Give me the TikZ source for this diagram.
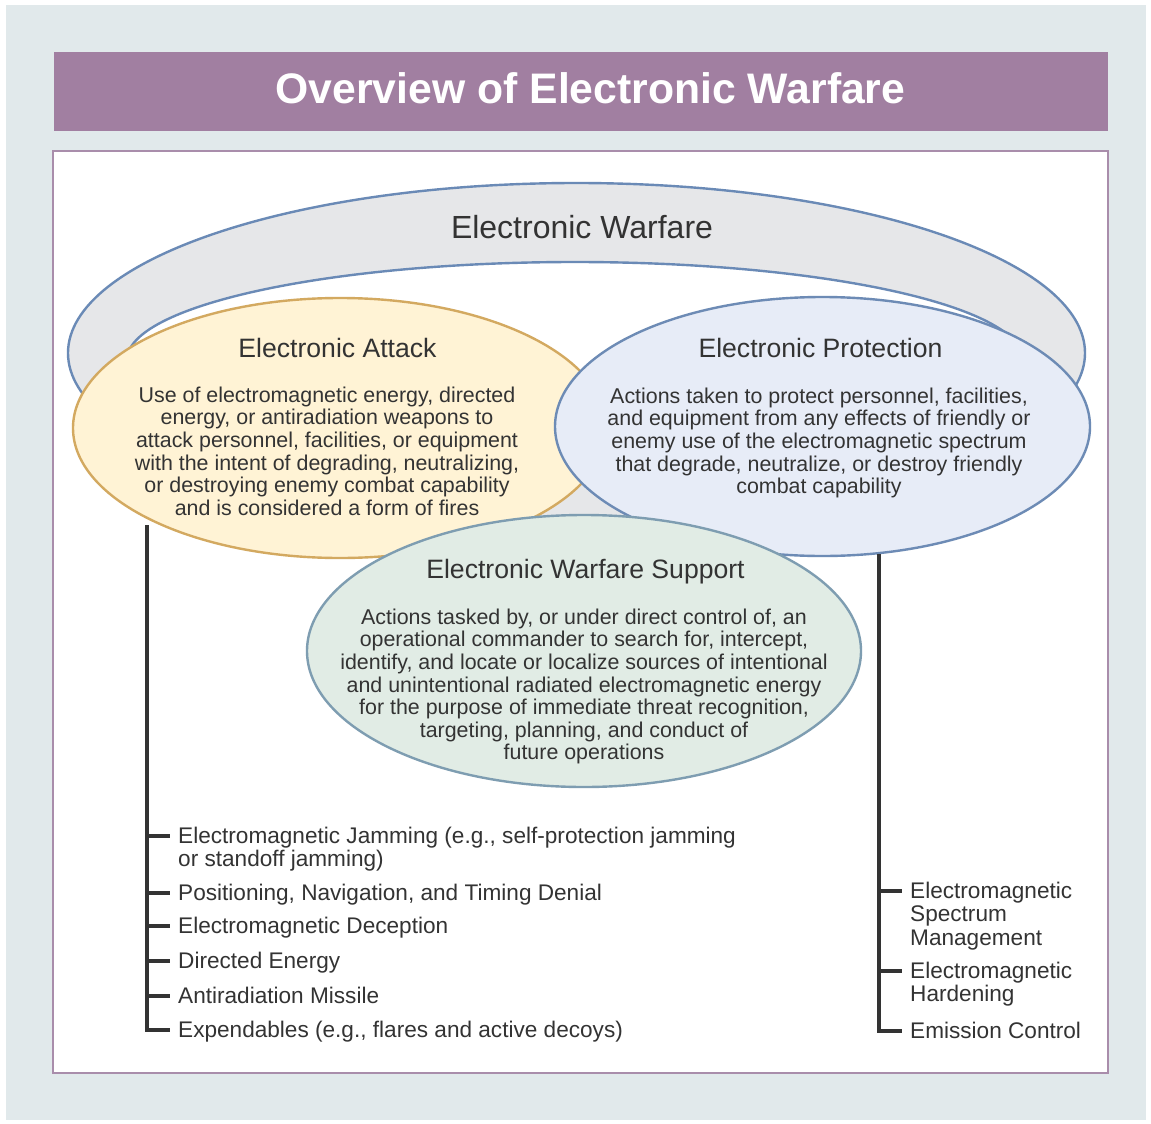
\documentclass[tikz,border=0pt]{standalone}
\usepackage{fontspec}
\setmainfont{Liberation Sans}
\usetikzlibrary{shapes.geometric}

\definecolor{panelbg}{HTML}{E1E9EB}
\definecolor{titlebar}{HTML}{A17FA1}
\definecolor{boxline}{HTML}{A98DAB}
\definecolor{ringfill}{HTML}{E6E7E9}
\definecolor{ringline}{HTML}{6A8AB6}
\definecolor{eafill}{HTML}{FFF3D5}
\definecolor{ealine}{HTML}{D3A960}
\definecolor{epfill}{HTML}{E7ECF7}
\definecolor{epline}{HTML}{6D8BB5}
\definecolor{ewsfill}{HTML}{E1ECE5}
\definecolor{ewsline}{HTML}{7E9DB1}
\definecolor{textgray}{HTML}{333333}

\tikzset{
  sphere/.style={ellipse,line width=2.4pt,inner sep=0pt},
  headtext/.style={text=white,inner sep=0pt,font=\bfseries\fontsize{42.7}{42.7}\selectfont},
  ewtext/.style={text=textgray,inner sep=0pt,font=\fontsize{32}{32}\selectfont},
  parttitle/.style={text=textgray,inner sep=0pt,font=\fontsize{26.6}{26.6}\selectfont},
  parttext/.style={text=textgray,inner sep=0pt,align=center,font=\fontsize{21.4}{22.6}\selectfont},
  item/.style={text=textgray,inner xsep=8pt,inner ysep=0pt,align=left,font=\fontsize{22.6}{23.5}\selectfont},
  stem/.style={draw=textgray,line width=4pt}
}

\begin{document}
\begin{tikzpicture}[x=1pt,y=-1pt]
  \useasboundingbox (0,0) rectangle (1151,1124);
  \fill[white] (0,0) rectangle (1151,1124);
  \fill[panelbg] (6,5) rectangle (1146,1120);
  \fill[titlebar] (54,52) rectangle (1108,131);
  \draw[boxline,fill=white,line width=1.2pt] (53,151) rectangle (1108,1073);
  \node[headtext,anchor=base] (head) at (590.5,103) {Overview of Electronic Warfare};

  \fill[ringfill,even odd rule] (576.5,353) ellipse [x radius=508.5pt,y radius=170pt]
    (575,360) ellipse [x radius=448pt,y radius=98pt];
  \draw[ringline,line width=2.4pt] (576.5,353) ellipse [x radius=508.5pt,y radius=170pt];
  \draw[ringline,line width=2.4pt] (575,360) ellipse [x radius=448pt,y radius=98pt];
  \node[ewtext,anchor=base] (ew) at (582,238) {Electronic Warfare};

  \node[sphere,draw=ealine,fill=eafill,minimum width=534pt,minimum height=260pt] (ea) at (340,428) {};
  \node[sphere,draw=epline,fill=epfill,minimum width=535pt,minimum height=259pt] (ep) at (822.5,426.5) {};
  \node[sphere,draw=ewsline,fill=ewsfill,minimum width=554pt,minimum height=272pt] (ews) at (584,651) {};

  \node[parttitle,anchor=base] (eaName) at (337.5,357) {Electronic Attack};
  \node[parttext,anchor=north] (eaText) at (327,386.5) {Use of electromagnetic energy, directed\\
    energy, or antiradiation weapons to\\
    attack personnel, facilities, or equipment\\
    with the intent of degrading, neutralizing,\\
    or destroying enemy combat capability\\
    and is considered a form of fires};
  \node[parttitle,anchor=base] (epName) at (820.5,357) {Electronic Protection};
  \node[parttext,anchor=north] (epText) at (819,387.5) {Actions taken to protect personnel, facilities,\\
    and equipment from any effects of friendly or\\
    enemy use of the electromagnetic spectrum\\
    that degrade, neutralize, or destroy friendly\\
    combat capability};
  \node[parttitle,anchor=base] (ewsName) at (585.5,578) {Electronic Warfare Support};
  \node[parttext,anchor=north] (ewsText) at (584,608.5) {Actions tasked by, or under direct control of, an\\
    operational commander to search for, intercept,\\
    identify, and locate or localize sources of intentional\\
    and unintentional radiated electromagnetic energy\\
    for the purpose of immediate threat recognition,\\
    targeting, planning, and conduct of\\
    future operations};

  \coordinate (eaFoot) at (147,525);
  \coordinate (epFoot) at (879,554);
  \node[item,anchor=north west] (jam) at (170,826.5) {Electromagnetic Jamming (e.g., self-protection jamming\\or standoff jamming)};
  \node[item,anchor=north west] (pnt) at (170,883.5) {Positioning, Navigation, and Timing Denial};
  \node[item,anchor=north west] (dec) at (170,916.5) {Electromagnetic Deception};
  \node[item,anchor=north west] (de) at (170,951.5) {Directed Energy};
  \node[item,anchor=north west] (arm) at (170,986.5) {Antiradiation Missile};
  \node[item,anchor=north west] (exp) at (170,1020.5) {Expendables (e.g., flares and active decoys)};
  \node[item,anchor=north west] (esm) at (902,881.5) {Electromagnetic\\Spectrum\\Management};
  \node[item,anchor=north west] (hard) at (902,961.5) {Electromagnetic\\Hardening};
  \node[item,anchor=north west] (emcon) at (902,1021.5) {Emission Control};

  \draw[stem] (eaFoot) |- ([yshift=-9pt]jam.north west);
  \draw[stem] (eaFoot) |- ([yshift=-9pt]pnt.north west);
  \draw[stem] (eaFoot) |- ([yshift=-9pt]dec.north west);
  \draw[stem] (eaFoot) |- ([yshift=-9pt]de.north west);
  \draw[stem] (eaFoot) |- ([yshift=-9pt]arm.north west);
  \draw[stem] (eaFoot) |- ([yshift=-9pt]exp.north west);
  \draw[stem] (epFoot) |- ([yshift=-9pt]esm.north west);
  \draw[stem] (epFoot) |- ([yshift=-9pt]hard.north west);
  \draw[stem] (epFoot) |- ([yshift=-9pt]emcon.north west);
\end{tikzpicture}
\end{document}
